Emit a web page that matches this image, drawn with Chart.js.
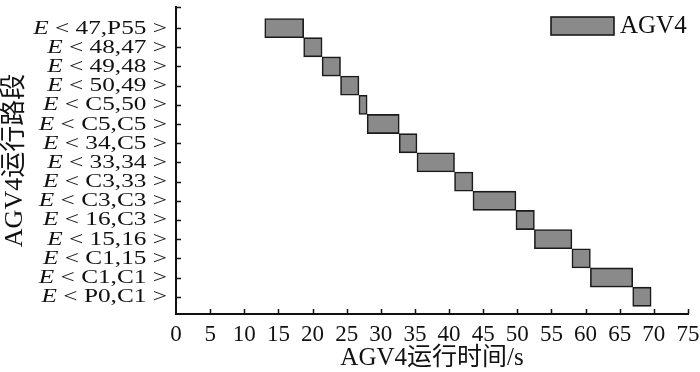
<!DOCTYPE html>
<html>
<head>
<meta charset="utf-8">
<script src="https://cdn.jsdelivr.net/npm/chart.js@4/dist/chart.umd.min.js"></script>
<style>
    html, body { margin: 0; padding: 0; background: #fff; }
    #wrap { width: 700px; height: 372px; }
</style>
</head>
<body>
<div id="wrap"><canvas id="gantt"></canvas></div>
<script>
// Route segments, top to bottom
const segments = ['47,P55', '48,47', '49,48', '50,49', 'C5,50', 'C5,C5', '34,C5', '33,34',
    'C3,33', 'C3,C3', '16,C3', '15,16', 'C1,15', 'C1,C1', 'P0,C1'];
// Start / end time of each segment (s)
const startTimes = [13.0, 18.7, 21.4, 24.1, 26.8, 28.0, 32.7, 35.3, 40.8, 43.5, 49.8, 52.5, 58.0, 60.7, 66.9];
const endTimes = [18.7, 21.4, 24.1, 26.8, 28.0, 32.7, 35.3, 40.8, 43.5, 49.8, 52.5, 58.0, 60.7, 66.9, 69.6];
const xTicks = [0, 5, 10, 15, 20, 25, 30, 35, 40, 45, 50, 55, 60, 65, 70, 75];

const serif = "'Liberation Serif', 'Times New Roman', 'Noto Sans CJK SC', serif";
const barFill = '#8a8a8a';
const barEdge = '#1a1a1a';

/**
 * Inward tick marks, the E<..> segment labels and the legend box
 */
const axisDecor = {
    id: 'axisDecor',
    afterDraw(chart) {
        const ctx = chart.ctx;
        const xs = chart.scales.x;
        const ys = chart.scales.y;
        const area = chart.chartArea;
        ctx.save();
        ctx.strokeStyle = '#111';
        ctx.lineWidth = 1.5;
        ctx.beginPath();
        xTicks.forEach(v => {
            if (v === 0) return;
            const px = Math.round(xs.getPixelForValue(v)) + 0.5;
            ctx.moveTo(px, area.bottom);
            ctx.lineTo(px, area.bottom - 5);
        });
        segments.forEach((s, i) => {
            const py = Math.round(ys.getPixelForValue(i + 1)) + 0.5;
            ctx.moveTo(area.left, py);
            ctx.lineTo(area.left + 5, py);
        });
        ctx.moveTo(area.left, area.top + 0.5);
        ctx.lineTo(area.left + 5, area.top + 0.5);
        ctx.stroke();

        // segment labels, stretched a little like the original typesetting
        const stretch = 1.33;
        ctx.fillStyle = '#111';
        ctx.textBaseline = 'middle';
        ctx.textAlign = 'right';
        segments.forEach((s, i) => {
            const py = ys.getPixelForValue(i + 1);
            ctx.save();
            ctx.translate(area.left - 9, py + 0.5);
            ctx.scale(stretch, 1);
            ctx.font = '19px ' + serif;
            const rest = ' < ' + s + ' >';
            ctx.fillText(rest, 0, 0);
            const w = ctx.measureText(rest).width;
            ctx.font = 'italic 19px ' + serif;
            ctx.fillText('E', -w, 0);
            ctx.restore();
        });

        // legend, top right inside the plot
        const label = chart.data.datasets[0].label;
        ctx.fillStyle = barFill;
        ctx.fillRect(551, 17, 63, 18);
        ctx.strokeStyle = barEdge;
        ctx.lineWidth = 1.6;
        ctx.strokeRect(551, 17, 63, 18);
        ctx.fillStyle = '#111';
        ctx.textAlign = 'left';
        ctx.font = '25px ' + serif;
        ctx.fillText(label, 620, 26.5);
        ctx.restore();
    }
};

const data = segments.map((s, i) => ({ y: i + 1, x: [startTimes[i], endTimes[i]] }));

new Chart(document.getElementById('gantt'), {
    type: 'bar',
    data: {
        datasets: [{
            label: 'AGV4',
            data: data,
            backgroundColor: barFill,
            borderColor: barEdge,
            borderWidth: 1.6,
            borderSkipped: false,
            barPercentage: 1,
            categoryPercentage: 1
        }]
    },
    options: {
        indexAxis: 'y',
        responsive: true,
        maintainAspectRatio: false,
        animation: false,
        layout: { padding: { top: 7, right: 12, left: 0, bottom: 0 } },
        scales: {
            x: {
                type: 'linear',
                min: 0,
                max: 75,
                afterBuildTicks: s => { s.ticks = xTicks.map(v => ({ value: v })); },
                afterFit: s => {
                    s.height = 58;
                    s.paddingLeft = 0;
                    s.paddingRight = 0;
                },
                grid: { display: false, drawTicks: false },
                border: { display: true, color: '#111', width: 2 },
                ticks: {
                    color: '#111',
                    padding: 7,
                    maxRotation: 0,
                    autoSkip: false,
                    font: { family: serif, size: 23 }
                },
                title: {
                    display: true,
                    text: 'AGV4运行时间/s',
                    color: '#111',
                    padding: { top: 0, bottom: 1 },
                    font: { family: serif, size: 25, lineHeight: 1 }
                }
            },
            y: {
                type: 'linear',
                reverse: true,
                offset: false,
                min: -0.1,
                max: 15.9,
                afterFit: s => { s.width = 176; },
                grid: { display: false, drawTicks: false, offset: false },
                border: { display: true, color: '#111', width: 2 },
                ticks: { display: false },
                title: {
                    display: true,
                    text: 'AGV4运行路段',
                    color: '#111',
                    padding: { top: 2, bottom: 0 },
                    font: { family: serif, size: 26, lineHeight: 1 }
                }
            }
        },
        plugins: {
            legend: { display: false },
            tooltip: { enabled: false }
        }
    },
    plugins: [axisDecor]
});
</script>
</body>
</html>
